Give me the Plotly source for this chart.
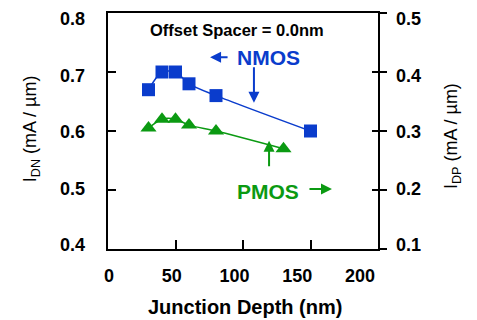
import plotly.graph_objects as go

# Junction depth sweep (nm)
depth_n = [30, 40, 50, 60, 80, 150]
depth_p = [30, 40, 50, 60, 80, 130]

# Drive currents (mA/um)
idn = [0.67, 0.70, 0.70, 0.68, 0.66, 0.60]
idp = [0.305, 0.32, 0.32, 0.31, 0.30, 0.27]

left_ticks = [0.4, 0.5, 0.6, 0.7, 0.8]
right_ticks = [0.1, 0.2, 0.3, 0.4, 0.5]
x_ticks = [0, 50, 100, 150, 200]

BLUE = "#0a3ccc"
GREEN = "#0b9a12"
FONT = "Liberation Sans, Arial, sans-serif"

fig = go.Figure()

fig.add_trace(go.Scatter(
    x=depth_n, y=idn, mode="lines+markers", yaxis="y",
    line=dict(color=BLUE, width=1.5, shape="spline", smoothing=0.8),
    marker=dict(symbol="square", size=13, color=BLUE),
    showlegend=False,
))
fig.add_trace(go.Scatter(
    x=depth_p, y=idp, mode="lines+markers", yaxis="y2",
    line=dict(color=GREEN, width=1.5, shape="spline", smoothing=0.8),
    marker=dict(symbol="triangle-up", size=14, color=GREEN),
    showlegend=False,
))

# Empty traces that bring the extra tick/label axes to life
for xa, ya in [("x", "y3"), ("x2", "y4"), ("x", "y5")]:
    fig.add_trace(go.Scatter(x=[None], y=[None], xaxis=xa, yaxis=ya,
                             showlegend=False, hoverinfo="skip"))

tickfont = dict(family=FONT, size=18, color="black", weight="bold")
frame = dict(showline=True, linecolor="black", linewidth=2,
             showgrid=False, zeroline=False)
labels_only = dict(ticks="", showline=False, showgrid=False, zeroline=False,
                   tickfont=tickfont)

fig.update_layout(
    width=477, height=320,
    margin=dict(l=108, r=99, t=9, b=71),
    paper_bgcolor="white", plot_bgcolor="white",
    # tick marks and frame
    xaxis=dict(range=[0, 200], tickvals=x_ticks, ticks="inside", ticklen=9,
               tickwidth=2, tickcolor="black", mirror=True,
               showticklabels=False, **frame),
    yaxis=dict(range=[0.4, 0.8], tickvals=left_ticks, ticks="inside",
               ticklen=8, tickwidth=2, tickcolor="black",
               showticklabels=False, **frame),
    yaxis2=dict(range=[0.1, 0.5], tickvals=right_ticks, overlaying="y",
                side="right", anchor="x", ticks="outside", ticklen=7,
                tickwidth=2, tickcolor="black", showticklabels=False, **frame),
    yaxis3=dict(range=[0.1, 0.5], tickvals=right_ticks, overlaying="y",
                side="right", anchor="x", ticks="inside", ticklen=6,
                tickwidth=2, tickcolor="black", showticklabels=False,
                showline=False, showgrid=False, zeroline=False),
    # tick labels
    xaxis2=dict(range=[-0.8, 214.3], tickvals=x_ticks, overlaying="x",
                side="bottom", anchor="y", ticklabelstandoff=14, **labels_only),
    yaxis4=dict(range=[0.393, 0.8104], tickvals=left_ticks, tickformat=".1f",
                overlaying="y", side="left", anchor="x",
                ticklabelstandoff=22, **labels_only),
    yaxis5=dict(range=[0.093, 0.5104], tickvals=right_ticks, tickformat=".1f",
                overlaying="y", side="right", anchor="x",
                ticklabelstandoff=17, **labels_only),
)

annotations = [
    dict(x=95.6, y=0.771, xref="x", yref="y", text="Offset Spacer = 0.0nm",
         showarrow=False, font=dict(family=FONT, size=16.5, color="black", weight="bold")),
    dict(x=119, y=0.725, xref="x", yref="y", text="NMOS", showarrow=False,
         font=dict(family=FONT, size=21, color=BLUE, weight="bold")),
    dict(x=118.5, y=0.498, xref="x", yref="y", text="PMOS", showarrow=False,
         font=dict(family=FONT, size=21, color=GREEN, weight="bold")),
    dict(x=0.507, y=-0.246, xref="paper", yref="paper", text="Junction Depth (nm)",
         showarrow=False, xanchor="center", yanchor="middle",
         font=dict(family=FONT, size=20, color="black", weight="bold")),
    dict(x=-0.285, y=0.508, xref="paper", yref="paper",
         text="I<sub>DN</sub> (mA / µm)", textangle=-90, showarrow=False,
         xanchor="center", yanchor="middle",
         font=dict(family=FONT, size=18, color="black")),
    dict(x=1.278, y=0.479, xref="paper", yref="paper",
         text="I<sub>DP</sub> (mA / µm)", textangle=-90, showarrow=False,
         xanchor="center", yanchor="middle",
         font=dict(family=FONT, size=18, color="black")),
]

# Pointer arrows: head position in data units, tail offset in pixels
arrows = [
    (75.6, 0.725, 19, 0, BLUE),
    (108.1, 0.648, 0, -37, BLUE),
    (119.3, 0.5835, 0, 27, GREEN),
    (165.9, 0.5017, -24, 0, GREEN),
]
for hx, hy, ax, ay, col in arrows:
    annotations.append(dict(
        x=hx, y=hy, xref="x", yref="y", ax=ax, ay=ay, text="",
        showarrow=True, arrowhead=2, arrowsize=1.1, arrowwidth=2,
        arrowcolor=col, standoff=0, startstandoff=0,
    ))

fig.update_layout(annotations=annotations)

fig.write_html("out.html")
